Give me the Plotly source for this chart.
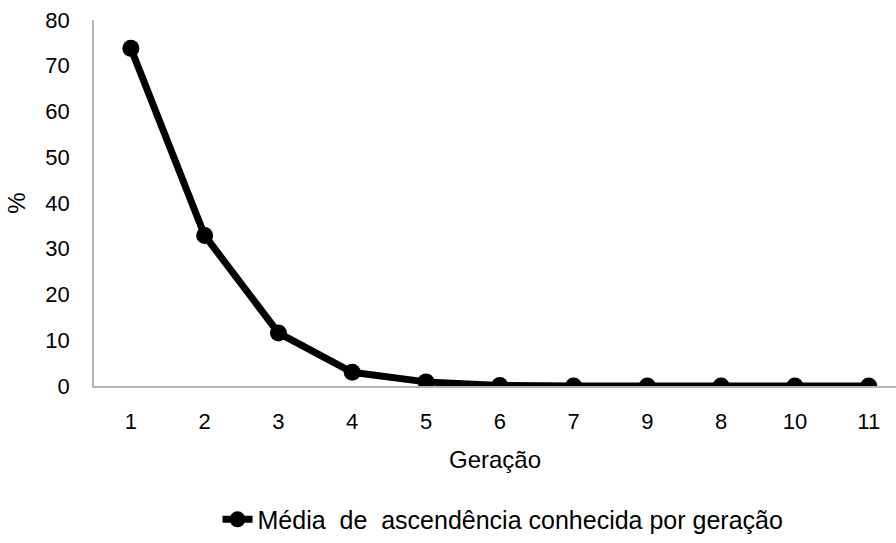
import plotly.graph_objects as go

geracao = ["1", "2", "3", "4", "5", "6", "7", "9", "8", "10", "11"]
media = [73.8, 32.9, 11.6, 3.0, 0.9, 0.1, 0.0, 0.0, 0.0, 0.0, 0.0]
y_ticks = [0, 10, 20, 30, 40, 50, 60, 70, 80]
serie_nome = "Média \u00a0de \u00a0ascendência conhecida por geração"

fig = go.Figure()
fig.add_trace(go.Scatter(
    x=geracao, y=media, mode="lines+markers", name=serie_nome,
    line=dict(color="black", width=7),
    marker=dict(color="black", size=17),
))

ff = "Liberation Sans, Arial, sans-serif"
fig.update_layout(
    width=896, height=543,
    margin=dict(l=94, r=0, t=20, b=151),
    paper_bgcolor="white", plot_bgcolor="white",
    font=dict(family=ff, size=22, color="black"),
    showlegend=True,
    legend=dict(orientation="h", xref="paper", x=0.51, xanchor="center",
                y=-0.365, yanchor="middle",
                font=dict(family=ff, size=25, color="black")),
    xaxis=dict(
        type="category", range=[-0.5, 10.37],
        showline=True, linecolor="#b3b3b3", linewidth=1.5,
        showgrid=False, ticks="", ticklabelstandoff=15,
        title=dict(text="Geração", font=dict(size=24), standoff=18),
    ),
    yaxis=dict(
        range=[0, 80], tickvals=y_ticks,
        showline=True, linecolor="#b3b3b3", linewidth=1.5,
        showgrid=False, ticks="", zeroline=False, ticklabelstandoff=18,
        title=dict(text="%", font=dict(size=24), standoff=13),
    ),
)
fig.write_html("out.html")
